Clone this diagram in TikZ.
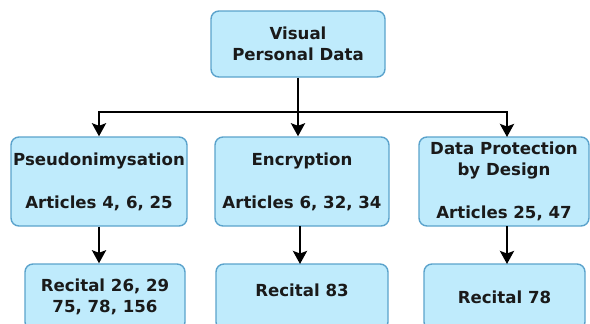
\documentclass[tikz,border=0pt]{standalone}
\usepackage{fontspec}
\setmainfont{DejaVu Sans}
\usetikzlibrary{arrows.meta}
\definecolor{boxfill}{HTML}{BFEBFC}
\definecolor{boxline}{HTML}{5BA3CC}
\definecolor{txt}{HTML}{1A1A1A}
\tikzset{
  box/.style={draw=boxline, fill=boxfill, rounded corners=8pt, line width=1.4pt,
    align=center, text=txt, inner sep=0pt,
    font=\fontsize{16.6}{21.5}\selectfont\bfseries},
  arr/.style={line width=2.7pt, -{Stealth[length=13pt,width=14pt,inset=2.5pt]}},
  ln/.style={line width=2.7pt}
}
\begin{document}
\begin{tikzpicture}[x=1pt,y=-1pt]
\useasboundingbox (0,0) rectangle (590,324);
\clip (0,0) rectangle (590,324);
\fill[white] (0,0) rectangle (590,324);
\node[box, minimum width=174pt, minimum height=66pt] (top) at (298,44) {Visual\\Personal Data};
\node[box, minimum width=176pt, minimum height=89pt] (pse) at (99,181.5) {Pseudonimysation\\[21.5pt]Articles 4, 6, 25};
\node[box, minimum width=174pt, minimum height=89pt] (enc) at (302,181.5) {Encryption\\[21.5pt]Articles 6, 32, 34};
\node[box, minimum width=170pt, minimum height=89pt] (dpd) at (504,181.5) {Data Protection\\by Design\\[21.5pt]Articles 25, 47};
\node[box, minimum width=160pt, minimum height=66pt] (r1) at (105,297) {Recital 26, 29\\75, 78, 156};
\node[box, minimum width=172pt, minimum height=66pt, text height=12pt, text depth=14pt] (r2) at (302,297) {Recital 83};
\node[box, minimum width=161pt, minimum height=66pt] (r3) at (504.5,297) {Recital 78};
\coordinate (hub) at (298,112);
\draw[ln] (top.south) -- (hub);
\draw[arr] (hub) -- (hub -| pse.north) -- (pse.north);
\draw[arr] (hub) -- (hub |- enc.north);
\draw[arr] (hub) -- (507,112) -- (507,137);
\draw[arr] (pse.south) -- (pse.south |- r1.north);
\draw[arr] (300,226) -- (300,264);
\draw[arr] (507,226) -- (507,264);
\end{tikzpicture}
\end{document}
